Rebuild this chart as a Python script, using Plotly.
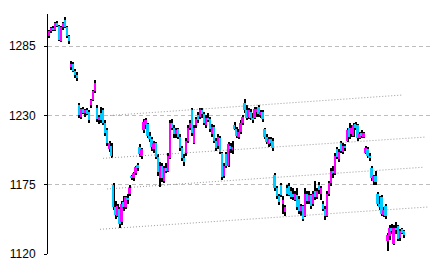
import plotly.graph_objects as go

opens = [1293,1297,1299,1298,1303,1301,1289,1300,1306,1300,1293,
         1268,1271,1265,1262,
         1238,1229,1235,1232,1234,1233,
         1238,1242,1249,
         1236,1226,1232,1234,1224,1218,1203,1206,
         1175,1157,1150,1156,1145,1161,1157,1164,1168,
         1182,1180,1184,1191,
         1205,1198,
         1218,1222,1223,1214,1211,1203,1208,1197,1180,1190,1178,1188,1186,1196,
         1224,1220,1215,1219,1213,1204,1196,1200,1210,1220,1234,1208,1222,1230,
         1229,1234,1231,1222,1228,1227,1215,1221,1210,1206,1212,1200,1182,1199,
         1190,1206,1203,1222,1219,1213,1217,1224,1240,1234,1229,1233,1228,1228,
         1233,1237,1230,1233,1219,1213,1207,1211,1210,1183,1172,1166,1175,1160,
         1153,1172,1174,1170,1168,1163,1167,1164,1154,1158,1150,1168,1162,1167,
         1160,1170,1165,1175,1168,1160,1156,1150,1168,1176,1186,1184,1203,1195,
         1208,1201,1206,1210,1220,1215,1214,1223,1222,1212,1216,1213,1200,1203,
         1198,1188,1178,1182,1168,1160,1165,1151,1158,1130,1134,1141,1128,1141,
         1142,1133,1140,1138]
highs = [1298,1300,1301,1304,1305,1302,1301,1304,1308,1301,1294,
         1273,1272,1267,1264,
         1240,1236,1237,1235,1236,1234,
         1243,1250,1258,
         1238,1230,1237,1236,1226,1220,1210,1208,
         1176,1162,1160,1157,1162,1166,1166,1168,1175,
         1183,1185,1190,1192,
         1207,1204,
         1227,1228,1224,1217,1213,1210,1209,1199,1193,1192,1190,1192,1200,1226,
         1227,1222,1220,1220,1215,1206,1199,1212,1222,1226,1236,1222,1229,1233,
         1236,1236,1233,1230,1232,1229,1223,1222,1212,1215,1214,1201,1192,1201,
         1209,1208,1210,1225,1221,1219,1226,1230,1243,1238,1236,1235,1232,1237,
         1237,1238,1234,1234,1220,1215,1213,1213,1212,1184,1174,1168,1176,1166,
         1159,1175,1176,1173,1172,1170,1172,1166,1160,1159,1172,1170,1170,1168,
         1170,1178,1172,1177,1174,1162,1158,1170,1178,1188,1190,1200,1205,1203,
         1210,1208,1207,1220,1224,1222,1224,1225,1223,1217,1218,1217,1206,1205,
         1200,1190,1183,1186,1169,1166,1167,1157,1160,1137,1143,1144,1143,1145,
         1143,1140,1141,1139]
lows = [1291,1295,1297,1297,1300,1289,1288,1298,1299,1291,1287,
        1266,1264,1260,1257,
        1228,1227,1231,1229,1230,1224,
        1236,1241,1248,
        1225,1223,1224,1222,1214,1206,1201,1196,
        1155,1148,1149,1141,1143,1154,1156,1160,1166,
        1179,1178,1183,1186,
        1197,1195,
        1216,1219,1212,1209,1202,1200,1195,1182,1173,1177,1176,1184,1185,1195,
        1218,1212,1212,1211,1202,1194,1190,1198,1208,1218,1214,1207,1220,1224,
        1227,1228,1222,1220,1225,1217,1213,1208,1202,1203,1199,1179,1180,1188,
        1189,1200,1199,1218,1212,1211,1215,1222,1232,1226,1227,1226,1224,1227,
        1229,1229,1228,1225,1211,1207,1205,1206,1202,1170,1164,1159,1165,1152,
        1150,1166,1166,1164,1163,1162,1155,1152,1150,1146,1149,1160,1160,1156,
        1158,1163,1164,1168,1163,1154,1147,1149,1166,1174,1180,1183,1195,1193,
        1200,1199,1202,1209,1211,1213,1213,1218,1210,1211,1212,1212,1199,1196,
        1194,1178,1175,1175,1158,1155,1150,1149,1148,1122,1131,1136,1127,1136,
        1130,1130,1136,1133]
closes = [1297,1299,1298,1303,1301,1290,1300,1303,1300,1293,1289,
          1271,1265,1262,1260,
          1230,1235,1232,1234,1231,1226,
          1242,1249,1256,
          1227,1229,1226,1224,1216,1208,1208,1198,
          1157,1151,1158,1144,1160,1157,1165,1163,1172,
          1180,1184,1189,1188,
          1199,1203,
          1225,1226,1214,1211,1205,1208,1197,1185,1190,1180,1188,1186,1198,1224,
          1220,1215,1218,1213,1204,1196,1193,1210,1220,1224,1216,1220,1227,1226,
          1234,1231,1224,1228,1227,1219,1221,1210,1204,1213,1201,1181,1190,1190,
          1207,1203,1205,1219,1214,1217,1224,1229,1234,1228,1234,1228,1226,1235,
          1235,1231,1233,1227,1213,1209,1211,1208,1204,1172,1166,1161,1167,1163,
          1157,1168,1167,1165,1165,1168,1157,1154,1158,1148,1168,1162,1167,1158,
          1168,1165,1170,1171,1172,1156,1150,1168,1176,1186,1184,1198,1197,1201,
          1202,1206,1204,1218,1213,1220,1222,1220,1212,1215,1214,1216,1204,1198,
          1196,1180,1182,1177,1160,1157,1152,1155,1150,1135,1141,1138,1141,1139,
          1132,1138,1137,1135]

# channel lines: (start index, start price, end index, end price)
trend_x0 = [25.3, 28.8, 26.8, 30.2]
trend_y0 = [1139.6, 1171.6, 1195.9, 1229.9]
trend_x1 = [187.9, 185.4, 186.9, 175.0]
trend_y1 = [1157.3, 1188.8, 1212.8, 1246.1]

tick_vals = [1120, 1175, 1230, 1285]

UP = "#FF00FF"
DOWN = "#00CCFF"

n = len(closes)
idx = list(range(n))

fig = go.Figure()

# wicks (drawn first, as thin bars)
fig.add_trace(go.Bar(x=idx, y=[h - l for h, l in zip(highs, lows)], base=lows,
                     width=0.5, marker=dict(color="black", line=dict(width=0)),
                     hoverinfo="skip", showlegend=False))

# bodies
base = [min(o, c) for o, c in zip(opens, closes)]
height = [max(abs(c - o), 0.8) for o, c in zip(opens, closes)]
colors = [UP if c >= o else DOWN for o, c in zip(opens, closes)]
fig.add_trace(go.Bar(x=idx, y=height, base=base, width=0.9,
                     marker=dict(color=colors, line=dict(width=0)),
                     showlegend=False))

# channel lines
for x0, y0, x1, y1 in zip(trend_x0, trend_y0, trend_x1, trend_y1):
    fig.add_trace(go.Scatter(x=[x0, x1], y=[y0, y1], mode="lines",
                             line=dict(color="#9a9a9a", width=1, dash="1px,2px"),
                             hoverinfo="skip", showlegend=False))

fig.update_layout(
    width=434, height=268,
    margin=dict(l=48, r=4, t=14, b=14),
    paper_bgcolor="white", plot_bgcolor="white",
    barmode="overlay", bargap=0,
    font=dict(family="Liberation Sans, Arial, sans-serif", size=12, color="black"),
    xaxis=dict(range=[-0.5, 188.9], visible=False, showgrid=False, zeroline=False),
    yaxis=dict(range=[1120, 1310.4], tickvals=tick_vals,
               showline=True, linecolor="black", linewidth=1,
               ticks="outside", ticklen=3, tickcolor="black",
               ticklabelstandoff=6,
               showgrid=True, gridcolor="#bdbdbd", gridwidth=1, griddash="4px,3px",
               zeroline=False),
)

fig.write_html("out.html")
